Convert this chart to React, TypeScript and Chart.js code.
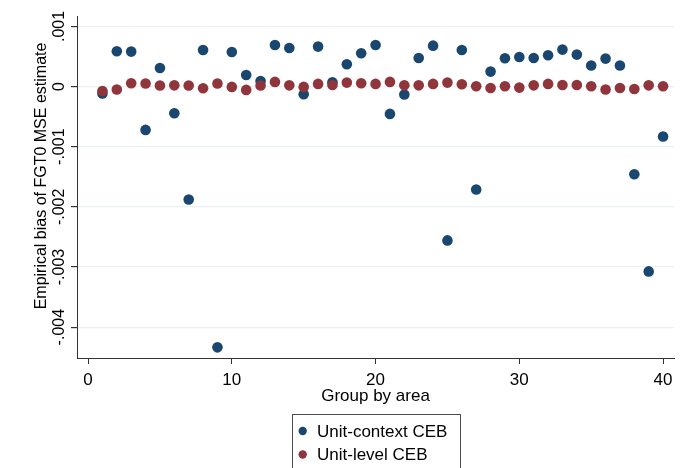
import { useEffect, useRef } from 'react';
import { Chart, registerables } from 'chart.js';

Chart.register(...registerables);

const groups = [1, 2, 3, 4, 5, 6, 7, 8, 9, 10, 11, 12, 13, 14, 15, 16, 17, 18, 19, 20, 21, 22, 23, 24, 25, 26, 27, 28, 29, 30, 31, 32, 33, 34, 35, 36, 37, 38, 39, 40];

const unitContext = [
  -0.000116, 0.000586, 0.000581, -0.000721, 0.000309, -0.000444, -0.001877, 0.000608, -0.004336, 0.000575,
  0.000193, 0.000093, 0.000691, 0.000641, -0.000128, 0.000664, 0.000071, 0.00037, 0.000553, 0.000691,
  -0.000455, -0.000133, 0.000475, 0.00068, -0.002558, 0.000608, -0.001711, 0.000249, 0.00047, 0.000492,
  0.000475, 0.00052, 0.000614, 0.000531, 0.000349, 0.000465, 0.000349, -0.001457, -0.003073, -0.000831,
];

const unitLevel = [
  -0.000073, -0.00005, 0.000055, 0.00005, 0.000017, 0.00002, 0.000017, -0.000028, 0.00005, -0.000006,
  -0.000056, 0.000017, 0.000077, 0.00002, -0.000006, 0.000044, 0.000027, 0.000066, 0.000055, 0.000044,
  0.000077, 0.00002, 0.00002, 0.000044, 0.000066, 0.000038, 0.000005, -0.000023, 0.000005, -0.000017,
  0.00002, 0.000044, 0.000027, 0.000027, 0.000005, -0.00005, -0.000023, -0.00004, 0.00002, 0.000005,
];

const seriesNames = ['Unit-context CEB', 'Unit-level CEB'];
const xTicks = [0, 10, 20, 30, 40];
const xTickLabels = ['0', '10', '20', '30', '40'];
const yTicks = [0.001, 0, -0.001, -0.002, -0.003, -0.004];
const yTickLabels = ['.001', '0', '-.001', '-.002', '-.003', '-.004'];
const xTitle = 'Group by area';
const yTitle = 'Empirical bias of FGT0 MSE estimate';

const BLUE = 'rgb(26,71,111)';
const RED = 'rgb(144,53,59)';
const FONT_V = '16px "Liberation Sans", Arial, sans-serif';
const FONT_H = '17px "Liberation Sans", Arial, sans-serif';

const textPlugin = {
  id: 'stataText',
  afterDraw(chart: any) {
    const ctx = chart.ctx as CanvasRenderingContext2D;
    const xs = chart.scales.x;
    const ys = chart.scales.y;
    ctx.save();
    ctx.fillStyle = '#000';
    ctx.font = FONT_V;
    // y tick labels, rotated
    yTicks.forEach((v, i) => {
      const py = ys.getPixelForValue(v);
      ctx.save();
      ctx.translate(64, py);
      ctx.rotate(-Math.PI / 2);
      ctx.textAlign = 'center';
      ctx.textBaseline = 'alphabetic';
      ctx.fillText(yTickLabels[i], 0, 0);
      ctx.restore();
    });
    // y title
    ctx.save();
    ctx.translate(46, 176);
    ctx.rotate(-Math.PI / 2);
    ctx.textAlign = 'center';
    ctx.textBaseline = 'alphabetic';
    ctx.fillText(yTitle, 0, 0);
    ctx.restore();
    // x tick labels
    ctx.font = FONT_H;
    ctx.textAlign = 'center';
    ctx.textBaseline = 'alphabetic';
    xTicks.forEach((v, i) => {
      ctx.fillText(xTickLabels[i], xs.getPixelForValue(v), 385);
    });
    ctx.fillText(xTitle, (xs.left + xs.right) / 2, 401);
    // legend
    ctx.strokeStyle = '#4d4d4d';
    ctx.lineWidth = 1;
    ctx.strokeRect(292.5, 414.5, 168, 80);
    const colors = [BLUE, RED];
    const rows = [431, 454.5];
    ctx.textAlign = 'left';
    seriesNames.forEach((name, i) => {
      ctx.fillStyle = colors[i];
      ctx.beginPath();
      ctx.arc(302.7, rows[i], 4.2, 0, Math.PI * 2);
      ctx.fill();
      ctx.fillStyle = '#000';
      ctx.fillText(name, 317, rows[i] + 5.5);
    });
    ctx.restore();
  },
};

export default function App() {
  const ref = useRef<HTMLCanvasElement | null>(null);
  useEffect(() => {
    if (!ref.current) return;
    const chart = new Chart(ref.current, {
      type: 'scatter',
      data: {
        datasets: [
          {
            label: seriesNames[0],
            data: groups.map((g, i) => ({ x: g, y: unitContext[i] })),
            backgroundColor: BLUE,
            borderColor: BLUE,
            borderWidth: 0,
            pointRadius: 5.3,
            order: 2,
          },
          {
            label: seriesNames[1],
            data: groups.map((g, i) => ({ x: g, y: unitLevel[i] })),
            backgroundColor: RED,
            borderColor: RED,
            borderWidth: 0,
            pointRadius: 5.3,
            order: 1,
          },
        ],
      },
      options: {
        animation: false,
        responsive: false,
        maintainAspectRatio: false,
        layout: { padding: { left: 0, top: 16, right: 9, bottom: 0 } },
        plugins: { legend: { display: false }, tooltip: { enabled: false } },
        scales: {
          x: {
            type: 'linear',
            min: -0.77,
            max: 40.76,
            afterBuildTicks: (s: any) => {
              s.ticks = xTicks.map((v) => ({ value: v }));
            },
            afterFit: (s: any) => {
              s.height = 110;
            },
            ticks: { display: false },
            grid: {
              drawOnChartArea: false,
              drawTicks: true,
              tickLength: 6,
              tickColor: '#333',
              lineWidth: 1,
            },
            border: { display: true, color: '#333', width: 1 },
          },
          y: {
            type: 'linear',
            min: -0.004513,
            max: 0.001173,
            afterBuildTicks: (s: any) => {
              s.ticks = yTicks.map((v) => ({ value: v }));
            },
            afterFit: (s: any) => {
              s.width = 77;
            },
            ticks: { display: false },
            grid: {
              drawOnChartArea: true,
              color: 'rgb(234,242,243)',
              lineWidth: 1.2,
              drawTicks: true,
              tickLength: 6,
              tickColor: '#333',
            },
            border: { display: true, color: '#333', width: 1 },
          },
        },
      },
      plugins: [textPlugin],
    });
    return () => chart.destroy();
  }, []);
  return (
    <div style={{ position: 'fixed', left: 0, top: 0, width: 683, height: 468, background: '#fff' }}>
      <canvas ref={ref} width={683} height={468} style={{ width: 683, height: 468, display: 'block' }} />
    </div>
  );
}
